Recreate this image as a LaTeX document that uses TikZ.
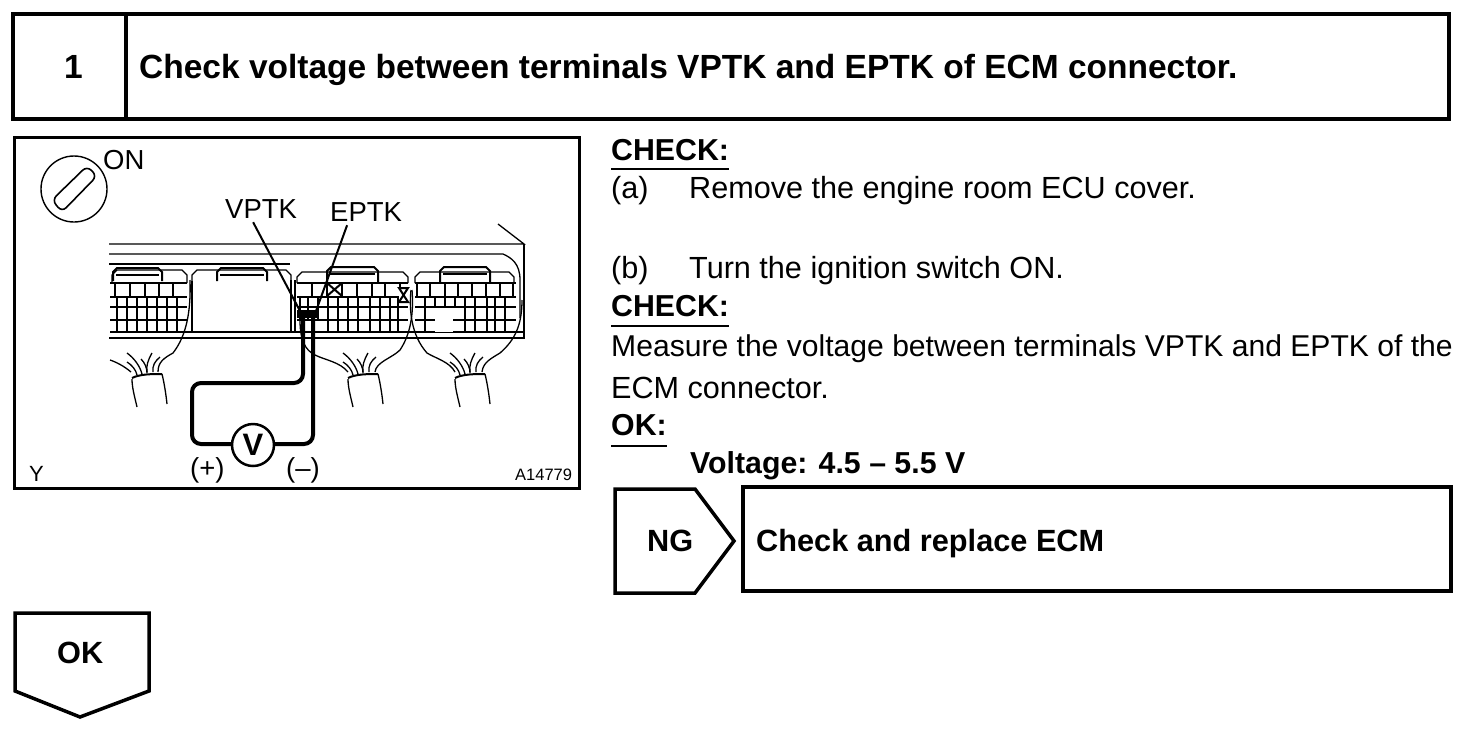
\documentclass[tikz,border=0pt]{standalone}
\usepackage{fontspec}
\setmainfont{Liberation Sans}
\tikzset{
  box/.style={draw=black,line width=3.5pt,line join=miter},
  frm/.style={draw=black,line width=3pt},
  thin1/.style={draw=black,line width=1.3pt},
  med/.style={draw=black,line width=2pt},
  lead/.style={draw=black,line width=4pt,rounded corners=9pt},
  hd/.style={anchor=base west,inner sep=0pt,font=\fontsize{33.5}{33}\selectfont\bfseries},
  hs/.style={anchor=base west,inner sep=0pt,font=\fontsize{30.7}{30}\selectfont\bfseries},
  bd/.style={anchor=base west,inner sep=0pt,font=\fontsize{30.6}{30}\selectfont},
  bb/.style={anchor=base west,inner sep=0pt,font=\fontsize{30.3}{30}\selectfont\bfseries},
  lb/.style={anchor=base west,inner sep=0pt,font=\fontsize{27.5}{30}\selectfont},
  sm/.style={anchor=base west,inner sep=0pt,font=\fontsize{16.5}{18}\selectfont},
}
\newcommand{\harness}[1]{%
  \begin{scope}[shift={(#1,0)}]
    \draw[thin1] (17,353) .. controls (24,358) and (30,366) .. (32,374);
    \draw[thin1] (17,362) .. controls (22,365) and (26,370) .. (27,375);
    \draw[thin1] (31,359) .. controls (35,363) and (37,368) .. (37,373);
    \draw[thin1] (42,353) .. controls (38,360) and (36,366) .. (37,372);
    \draw[thin1] (50,357) .. controls (45,361) and (42,366) .. (43,372);
    \draw[med] (22,378) .. controls (30,374) and (42,374) .. (52,374);
    \draw[thin1] (22,379) .. controls (22,388) and (25,398) .. (27,407);
    \draw[thin1] (52,374) .. controls (54,382) and (56,394) .. (57,404);
  \end{scope}}
% vertical cell lines: y-from, y-to, style, x list
\newcommand{\cells}[4]{\foreach \cx in {#4} \draw[#3] (\cx,#1) -- (\cx,#2);}
\newcommand{\plugtop}[6]{% x0, tab x1, tab x2, x3, top y, tab y
  \draw[thin1] (#1,283) -- (#1,#5+5) -- ({#1+5},#5) -- (#4-5,#5) -- (#4,#5+5) -- (#4,283);
  \draw[med] (#2,#5+11) -- (#2,#6+4) -- ({#2+4},#6) -- (#3-4,#6) -- (#3,#6+4) -- (#3,#5+11);
  \draw[med] (#2+3,#6+7) -- (#3-3,#6+7);
}
\begin{document}
\begin{tikzpicture}[x=1pt,y=-1pt]
\useasboundingbox (0,0) rectangle (1472,732);
% heading
\draw[box] (13,14) rectangle (1449,119);
\draw[box] (126,14) -- (126,119);
\node[hd] (num) at (64,78) {1};
\node[hd] (title) at (139,78) {Check voltage between terminals VPTK and EPTK of ECM connector.};
% figure frame
\draw[frm] (14,137) rectangle (579,488);
% ignition key
\node[draw,circle,line width=1.4pt,minimum size=66pt,inner sep=0pt] (key) at (74,189) {};
\draw[thin1,line width=1.6pt,rounded corners=6pt] (52,200) -- (87,166) -- (97,176) -- (62,212) -- cycle;
\node[lb] (on) at (103,169) {ON};
% ECU body
\draw[thin1] (109,244) -- (524,244) -- (498,224);
\draw[med] (524,244) -- (524,338) -- (109,338);
\draw[thin1] (109,254) -- (503,254) .. controls (512,258) and (520,264) .. (520,280) -- (520,318);
\draw[thin1] (109,264) -- (290,264);
% plug tops
\plugtop{112}{113}{162}{187}{270}{268}
\plugtop{192}{217}{267}{291}{270}{268}
\plugtop{297}{327}{378}{408}{272}{267}
\plugtop{415}{440}{490}{514}{272}{267}
% rows
\foreach \yy in {283,297,307,320} {
  \draw[med] (110,\yy) -- (187,\yy);
  \draw[med] (297,\yy) -- (408,\yy);
  \draw[med] (415,\yy) -- (516,\yy);
}
\draw[med] (110,332) -- (524,332);
\draw[med] (192,281) -- (192,332);
\draw[med] (295,280) -- (295,332);
\draw[thin1] (291,280) -- (291,332);
% cells, plug 1
\cells{283}{297}{med}{115,130,145,159,173}
\cells{297}{332}{thin1}{117,137,147,157,167,177}
\cells{297}{332}{med}{127}
% cells, plug 3
\cells{283}{297}{med}{312,327,342,357,372,385,400}
\cells{297}{332}{med}{328,338,348,358,370,380,390,398}
\cells{297}{320}{thin1}{300,308,318}
% cells, plug 4
\cells{283}{297}{med}{417,430,445,458,472,486,500,513}
\cells{297}{332}{med}{425,465,475,487,495,505}
\cells{297}{308}{med}{435,445,455}
\node[fill=white,inner sep=0pt,minimum width=18pt,minimum height=23pt] (hole) at (444,320) {};
% pin marks
\node[fill=white,inner sep=0pt,minimum size=12pt] (m1) at (334,290) {};
\draw[med] (327,283) -- (342,296) (342,283) -- (327,296);
\node[fill=white,inner sep=0pt,minimum width=9pt,minimum height=14pt] (m2) at (403,295) {};
\draw[med] (399,288) -- (408,288) -- (399,302) -- (408,302) -- cycle;
% harness wires
\draw[thin1] (110,360) .. controls (116,362) and (124,366) .. (131,372);
\draw[thin1] (190,280) .. controls (191,310) and (187,335) .. (173,353) .. controls (164,358) and (158,362) .. (158,372);
\draw[thin1] (300,320) .. controls (300,340) and (305,350) .. (315,355) .. controls (325,360) and (340,362) .. (348,372);
\draw[thin1] (412,290) .. controls (414,315) and (410,335) .. (400,350) .. controls (392,358) and (376,362) .. (375,372);
\draw[thin1] (411,290) .. controls (409,310) and (411,335) .. (427,353) .. controls (435,358) and (450,362) .. (455,372);
\draw[thin1] (522,300) .. controls (522,325) and (515,340) .. (500,353) .. controls (492,358) and (483,362) .. (482,372);
\harness{326}
\harness{433}
\harness{110}
% meter and leads
\fill (297,310) rectangle (319,318);
\coordinate (pa) at (303,312);
\coordinate (pb) at (313,312);
\draw[lead] (pa) -- (303,383) -- (192,383) -- (192,444) -- (232,444);
\draw[lead] (274,444) -- (313,444) -- (pb);
\node[draw,circle,line width=2.5pt,minimum size=42pt,inner sep=0pt,font=\fontsize{31}{30}\selectfont] (vm) at (253,445) {\textbf{V}};
% terminal labels
\node[lb] (vptk) at (225,218) {VPTK};
\node[lb] (eptk) at (330,221) {EPTK};
\coordinate (vtip) at (300,311);
\coordinate (etip) at (316,311);
\draw[med] (vptk.south) ++(-8,4) -- (vtip);
\draw[med] (eptk.south) ++(-19,4) -- (etip);
\node[lb] (plus) at (190,477) {(+)};
\node[lb] (minus) at (286,477) {(--)};
\node[sm,font=\fontsize{22}{22}\selectfont] (yy) at (29,481) {Y};
\node[sm] (code) at (515,480) {A14779};
% text
\node[bb] (c1) at (611,160) {CHECK:};
\draw[thin1] (611,169) -- (729,169);
\node[bd] (a1) at (611,198) {(a)};
\node[bd] (a2) at (689,198) {Remove the engine room ECU cover.};
\node[bd] (b1) at (611,278) {(b)};
\node[bd] (b2) at (689,278) {Turn the ignition switch ON.};
\node[bb] (c2) at (611,316) {CHECK:};
\draw[thin1] (611,326) -- (729,326);
\node[bd,font=\fontsize{30.1}{30}\selectfont] (l1) at (611,356) {Measure the voltage between terminals VPTK and EPTK of the};
\node[bd] (l2) at (611,398) {ECM connector.};
\node[bb] (ok) at (611,435) {OK:};
\draw[thin1] (611,446) -- (667,446);
\node[bb] (volt) at (690,473) {Voltage: 4.5 -- 5.5 V};
% NG
\draw[box] (615,489) -- (695,489) -- (734,541) -- (695,593) -- (615,593) -- cycle;
\node[hs] (ng) at (647,551) {NG};
\draw[box] (743,487) rectangle (1451,591);
\node[hs] (act) at (756,551) {Check and replace ECM};
% OK
\draw[box] (15,613) -- (149,613) -- (149,691) -- (80,717) -- (15,691) -- cycle;
\node[hs] (okb) at (57,663) {OK};
\end{tikzpicture}
\end{document}
